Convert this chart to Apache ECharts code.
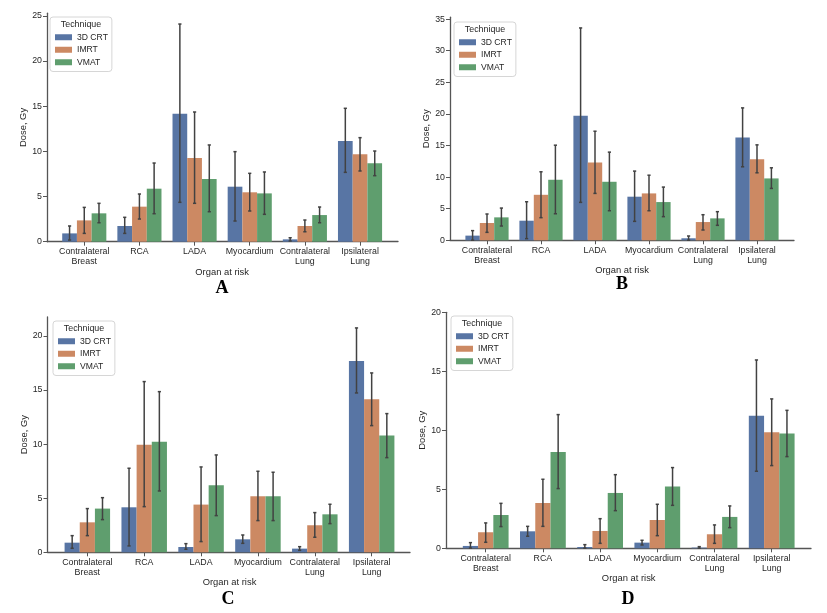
<!DOCTYPE html>
<html>
<head>
<meta charset="utf-8">
<script src="https://cdn.jsdelivr.net/npm/echarts@6/dist/echarts.min.js"></script>
<style>
  html, body { margin: 0; padding: 0; background: #fff; }
  #chart { width: 827px; height: 613px; }
</style>
</head>
<body>
<div id="chart"></div>
<script>
// organs and techniques
var categories = ['Contralateral\nBreast', 'RCA', 'LADA', 'Myocardium', 'Contralateral\nLung', 'Ipsilateral\nLung'];
var techniques = ['3D CRT', 'IMRT', 'VMAT'];
var colors = ['#5875a4', '#cc8963', '#5f9e6e'];

// panel A: mean dose, error bar low / high  (rows: 3D CRT, IMRT, VMAT)
var meanA = [[0.92, 1.74, 14.18, 6.09, 0.26, 11.15],
             [2.36, 3.88, 9.27, 5.47, 1.74, 9.67],
             [3.14, 5.87, 6.94, 5.35, 2.95, 8.68]];
var lowA  = [[0.18, 0.92, 4.36, 2.29, 0.08, 7.68],
             [0.92, 2.51, 4.25, 3.40, 1.10, 7.83],
             [2.10, 3.10, 3.32, 3.03, 2.10, 7.31]];
var highA = [[1.74, 2.70, 24.10, 9.97, 0.44, 14.77],
             [3.80, 5.28, 14.36, 7.57, 2.40, 11.52],
             [4.25, 8.71, 10.71, 7.72, 3.84, 10.04]];

// panel B
var meanB = [[0.74, 3.10, 19.70, 6.90, 0.32, 16.26],
             [2.74, 7.20, 12.30, 7.42, 2.89, 12.84],
             [3.63, 9.58, 9.26, 6.05, 3.47, 9.79]];
var lowB  = [[0.02, 0.26, 6.00, 3.00, 0.02, 11.63],
             [1.26, 3.58, 7.42, 4.68, 1.63, 10.68],
             [2.26, 4.20, 4.68, 3.74, 2.37, 8.21]];
var highB = [[1.53, 6.10, 33.60, 10.95, 0.68, 20.95],
             [4.16, 10.84, 17.26, 10.30, 4.05, 15.10],
             [5.10, 15.05, 13.95, 8.42, 4.53, 11.47]];

// panel C
var meanC = [[0.89, 4.16, 0.49, 1.20, 0.34, 17.69],
             [2.77, 9.95, 4.41, 5.18, 2.50, 14.14],
             [4.04, 10.23, 6.19, 5.18, 3.51, 10.79]];
var lowC  = [[0.37, 0.59, 0.28, 0.83, 0.18, 14.73],
             [1.54, 4.22, 0.99, 2.93, 1.39, 11.71],
             [3.02, 5.67, 3.39, 2.93, 2.65, 8.75]];
var highC = [[1.54, 7.77, 0.80, 1.60, 0.52, 20.74],
             [4.04, 15.78, 7.89, 7.49, 3.67, 16.58],
             [5.05, 14.85, 9.00, 7.40, 4.44, 12.82]];

// panel D
var meanD = [[0.20, 1.44, 0.11, 0.48, 0.06, 11.24],
             [1.36, 3.84, 1.47, 2.40, 1.19, 9.83],
             [2.82, 8.16, 4.69, 5.23, 2.66, 9.72]];
var lowD  = [[0.02, 1.02, 0.01, 0.28, 0.01, 6.53],
             [0.51, 1.86, 0.42, 1.07, 0.42, 7.01],
             [1.84, 5.06, 3.19, 3.64, 1.75, 7.77]];
var highD = [[0.48, 1.86, 0.31, 0.68, 0.14, 15.96],
             [2.15, 5.85, 2.51, 3.73, 1.98, 12.66],
             [3.81, 11.33, 6.24, 6.84, 3.59, 11.69]];

// y tick labels
var yTicksA = [0, 5, 10, 15, 20, 25];
var yTicksB = [0, 5, 10, 15, 20, 25, 30, 35];
var yTicksC = [0, 5, 10, 15, 20];
var yTicksD = [0, 5, 10, 15, 20];

var W = 827, H = 613;
var FONT = 'Liberation Sans';
var TXT = '#262626';
var AXC = '#555555';

// layout of the four panels (pixels)
var panels = [
  {letter: 'A', mean: meanA, low: lowA, high: highA, ticks: yTicksA, ymax: 25.3,
   spine: 47, xEnd: 398, left: 56.7, right: 387.6, top: 13.2, y0: 241.7,
   legend: [50, 17], letterPos: [222, 288]},
  {letter: 'B', mean: meanB, low: lowB, high: highB, ticks: yTicksB, ymax: 35.3,
   spine: 450, xEnd: 794, left: 460, right: 784, top: 17.2, y0: 240.3,
   legend: [454, 22], letterPos: [622, 284]},
  {letter: 'C', mean: meanC, low: lowC, high: highC, ticks: yTicksC, ymax: 21.75,
   spine: 47.5, xEnd: 410, left: 58.9, right: 400.1, top: 317.0, y0: 552.3,
   legend: [53, 321], letterPos: [228, 599]},
  {letter: 'D', mean: meanD, low: lowD, high: highD, ticks: yTicksD, ymax: 20,
   spine: 446, xEnd: 811, left: 457.1, right: 800.3, top: 312.3, y0: 548.3,
   legend: [451, 316], letterPos: [628, 599]}
];

// error bar drawer for technique k (offset inside the group)
function errRenderer(k) {
  return function (params, api) {
    var c = api.value(0);
    var lo = api.value(1), hi = api.value(2);
    var band = api.size([1, 0])[0];
    var bw = band * 0.8 / 3;
    var pTop = api.coord([c, hi]);
    var pBot = api.coord([c, lo]);
    var x = pTop[0] + (k - 1) * bw;
    var cap = 1.6;
    var st = {stroke: '#424242', lineWidth: 1.5};
    return {
      type: 'group',
      children: [
        {type: 'line', shape: {x1: x, y1: pTop[1], x2: x, y2: pBot[1]}, style: st},
        {type: 'line', shape: {x1: x - cap, y1: pTop[1], x2: x + cap, y2: pTop[1]}, style: st},
        {type: 'line', shape: {x1: x - cap, y1: pBot[1], x2: x + cap, y2: pBot[1]}, style: st}
      ]
    };
  };
}

var grids = [], xAxes = [], yAxes = [], series = [], legends = [], graphics = [];

panels.forEach(function (p, i) {
  var g = i * 2;      // bar grid
  var gw = i * 2 + 1; // wide grid, only for the x spine
  grids.push({left: p.left, right: W - p.right, top: p.top, bottom: H - p.y0});
  grids.push({left: p.spine, right: W - p.xEnd, top: p.top, bottom: H - p.y0});

  xAxes.push({
    type: 'category', gridIndex: g, data: categories,
    axisLine: {show: false},
    axisTick: {show: true, alignWithLabel: true, length: 4, lineStyle: {color: AXC, width: 1}},
    axisLabel: {interval: 0, margin: 5, fontFamily: FONT, fontSize: 8.8, lineHeight: 10, color: TXT},
    name: 'Organ at risk', nameLocation: 'middle', nameGap: 24,
    nameTextStyle: {fontFamily: FONT, fontSize: 9.4, color: TXT}
  });
  xAxes.push({
    type: 'value', gridIndex: gw, min: 0, max: 1,
    axisLine: {show: true, lineStyle: {color: AXC, width: 1.3}},
    axisTick: {show: false}, axisLabel: {show: false}, splitLine: {show: false}
  });

  yAxes.push({
    type: 'value', gridIndex: g, min: 0, max: p.ymax, offset: p.left - p.spine,
    axisLine: {show: true, lineStyle: {color: AXC, width: 1.3}},
    axisTick: {show: true, length: 4, customValues: p.ticks, lineStyle: {color: AXC, width: 1}},
    axisLabel: {customValues: p.ticks, margin: 5, fontFamily: FONT, fontSize: 8.8, color: TXT},
    splitLine: {show: false},
    name: 'Dose, Gy', nameLocation: 'middle', nameGap: 16,
    nameTextStyle: {fontFamily: FONT, fontSize: 9.4, color: TXT}
  });
  yAxes.push({type: 'value', gridIndex: gw, min: 0, max: p.ymax, show: false});

  techniques.forEach(function (t, k) {
    series.push({
      type: 'bar', name: t, xAxisIndex: g, yAxisIndex: g,
      data: p.mean[k], barGap: '0%', barCategoryGap: '20%',
      itemStyle: {color: colors[k]}, z: 2
    });
  });
  techniques.forEach(function (t, k) {
    var d = p.low[k].map(function (lo, j) { return [j, lo, p.high[k][j]]; });
    series.push({
      type: 'custom', name: t + ' err', xAxisIndex: g, yAxisIndex: g,
      data: d, encode: {x: 0, y: [1, 2]}, renderItem: errRenderer(k), z: 3, silent: true
    });
  });

  legends.push({
    data: techniques, orient: 'vertical', left: p.legend[0], top: p.legend[1],
    padding: [14, 4, 3, 5], itemWidth: 17, itemHeight: 6, itemGap: 0, icon: 'rect',
    backgroundColor: 'rgba(255,255,255,0.85)', borderColor: '#d6d6d6', borderWidth: 1, borderRadius: 3,
    textStyle: {fontFamily: FONT, fontSize: 8.6, color: TXT, lineHeight: 12.5},
    selectedMode: false
  });

  graphics.push({
    type: 'text', x: p.legend[0] + 31, y: p.legend[1] + 8, z: 100,
    style: {text: 'Technique', fontFamily: FONT, fontSize: 8.9, fill: TXT, align: 'center', verticalAlign: 'middle'}
  });
  graphics.push({
    type: 'text', x: p.letterPos[0], y: p.letterPos[1],
    style: {text: p.letter, fontFamily: 'Liberation Serif', fontWeight: 'bold', fontSize: 18, fill: '#000', align: 'center', verticalAlign: 'middle'}
  });
});

var chart = echarts.init(document.getElementById('chart'), null, {renderer: 'canvas'});
chart.setOption({
  backgroundColor: '#ffffff',
  animation: false,
  grid: grids,
  xAxis: xAxes,
  yAxis: yAxes,
  legend: legends,
  series: series,
  graphic: graphics
});
</script>
</body>
</html>
